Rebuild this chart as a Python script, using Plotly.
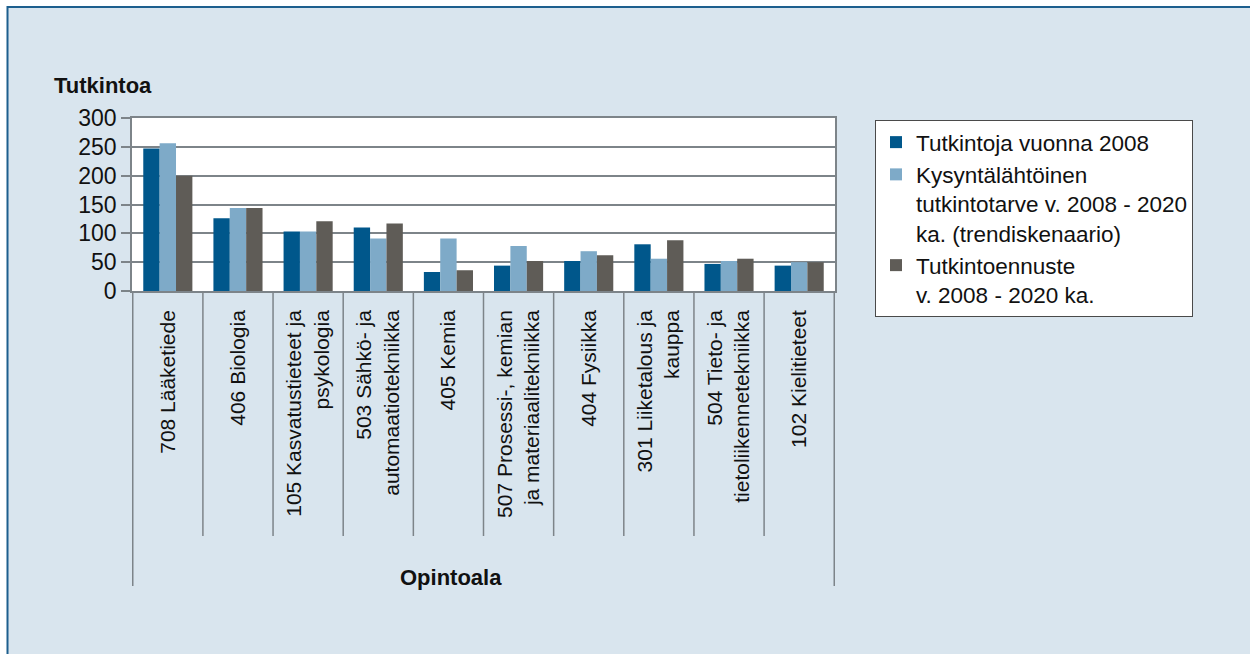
import plotly.graph_objects as go

# Degrees by field of study
categories = [
    "708 Lääketiede",
    "406 Biologia",
    "105 Kasvatustieteet ja<br>psykologia",
    "503 Sähkö- ja<br>automaatiotekniikka",
    "405 Kemia",
    "507 Prosessi-, kemian<br>ja materiaalitekniikka",
    "404 Fysiikka",
    "301 Liiketalous ja<br>kauppa",
    "504 Tieto- ja<br>tietoliikennetekniikka",
    "102 Kielitieteet",
]
degrees_2008 = [247, 126, 103, 110, 33, 44, 52, 81, 47, 44]
demand_2008_2020 = [256, 144, 103, 91, 91, 78, 69, 56, 52, 50]
forecast_2008_2020 = [200, 144, 121, 117, 36, 52, 62, 88, 56, 50]

series_names = [
    "Tutkintoja vuonna 2008",
    "Kysyntälähtöinen<br>tutkintotarve v. 2008 - 2020<br>ka. (trendiskenaario)",
    "Tutkintoennuste<br>v. 2008 - 2020 ka.",
]
series_values = [degrees_2008, demand_2008_2020, forecast_2008_2020]
series_colors = ["#00578b", "#7eaac8", "#5f5c57"]

W, H = 1250, 654
L, R, T, B = 132, 835, 118, 291  # plot area in pixels
FONT = "Liberation Sans, Arial, sans-serif"
BG = "#d9e5ee"
GRID = "#7d8489"


def px_x(x):
    return (x - L) / (R - L)


def px_y(y):
    return (B - y) / (B - T)


fig = go.Figure()
for name, vals, col in zip(series_names, series_values, series_colors):
    fig.add_trace(go.Bar(x=categories, y=vals, name=name, marker_color=col,
                         marker_line_width=0))

shapes = []
# outer frame: white margin strips and blue border
shapes.append(dict(type="rect", xref="paper", yref="paper", x0=px_x(-5), x1=px_x(W + 5),
                   y0=px_y(-5), y1=px_y(6), fillcolor="white", line_width=0, layer="below"))
shapes.append(dict(type="rect", xref="paper", yref="paper", x0=px_x(-5), x1=px_x(7),
                   y0=px_y(-5), y1=px_y(H + 5), fillcolor="white", line_width=0, layer="below"))
shapes.append(dict(type="line", xref="paper", yref="paper", x0=px_x(7), x1=px_x(W + 5),
                   y0=px_y(7), y1=px_y(7), line=dict(color="#1d5f8e", width=2)))
shapes.append(dict(type="line", xref="paper", yref="paper", x0=px_x(7.5), x1=px_x(7.5),
                   y0=px_y(6), y1=px_y(H + 5), line=dict(color="#1d5f8e", width=2)))
# category separators below the axis
n = len(categories)
for i in range(n + 1):
    outer = i in (0, n)
    shapes.append(dict(type="line", xref="x", yref="paper", x0=i - 0.5, x1=i - 0.5,
                       y0=0, y1=px_y(586 if outer else 536),
                       line=dict(color=GRID, width=1.5)))
# left tick at zero on the value axis
shapes.append(dict(type="line", xref="paper", yref="paper", x0=px_x(123), x1=0,
                   y0=0, y1=0, line=dict(color=GRID, width=1.5)))

fig.update_layout(
    width=W, height=H,
    margin=dict(l=L, r=W - R, t=T, b=H - B, pad=0),
    paper_bgcolor=BG,
    plot_bgcolor="white",
    font=dict(family=FONT, color="#111111", size=21),
    barmode="group",
    bargap=0.30,
    bargroupgap=0,
    showlegend=True,
    legend=dict(
        x=px_x(875), y=px_y(120), xanchor="left", yanchor="top",
        bgcolor="white", bordercolor="#4a4a4a", borderwidth=1,
        font=dict(family=FONT, size=22.5, color="#111111"),
        valign="top", traceorder="normal",
        maxheight=400,
    ),
    shapes=shapes,
    annotations=[
        dict(text="<b>Tutkintoa</b>", xref="paper", yref="paper", x=px_x(52), y=px_y(85),
             xanchor="left", yanchor="middle", showarrow=False,
             font=dict(family=FONT, size=22, color="#111111")),
        dict(text="<b>Opintoala</b>", xref="paper", yref="paper", x=px_x(451), y=px_y(577),
             xanchor="center", yanchor="middle", showarrow=False,
             font=dict(family=FONT, size=22, color="#111111")),
    ],
)

fig.update_xaxes(
    type="category", tickangle=-90, ticks="", showline=True, linecolor=GRID,
    linewidth=1.5, mirror=True, showgrid=False,
    tickfont=dict(family=FONT, size=21, color="#111111"),
    ticklabelstandoff=9,
)
fig.update_yaxes(
    range=[0, 300], dtick=50, showgrid=True, gridcolor=GRID, gridwidth=1.5,
    showline=True, linecolor=GRID, linewidth=1.5, mirror=True,
    ticks="outside", ticklen=9, tickcolor=GRID, tickwidth=1.5,
    tickfont=dict(family=FONT, size=23, color="#111111"),
    zeroline=False,
)

fig.write_html("out.html")
